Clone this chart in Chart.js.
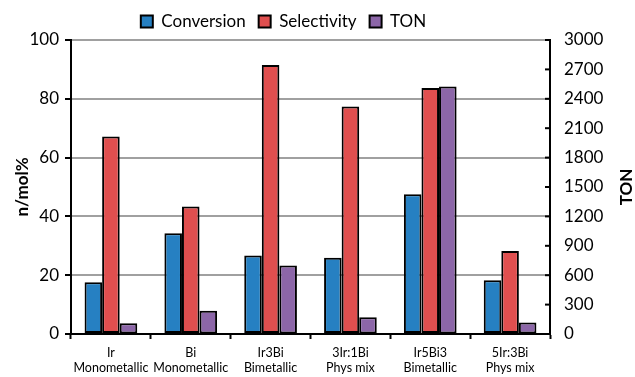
<!DOCTYPE html>
<html>
<head>
<meta charset="utf-8">
<script src="https://cdn.jsdelivr.net/npm/chart.js@4.4.1/dist/chart.umd.min.js"></script>
<style>
  html, body { margin: 0; padding: 0; background: #fff; }
  #wrap { width: 635px; height: 377px; }
</style>
</head>
<body>
<div id="wrap"><canvas id="chart" width="635" height="377"></canvas></div>
<script>
// Categories (two-line labels)
const categories = [
    ['Ir', 'Monometallic'],
    ['Bi', 'Monometallic'],
    ['Ir3Bi', 'Bimetallic'],
    ['3Ir:1Bi', 'Phys mix'],
    ['Ir5Bi3', 'Bimetallic'],
    ['5Ir:3Bi', 'Phys mix']
];

// Series values
const conversion = [17.6, 34.3, 26.7, 25.9, 47.5, 18.3];   // n/mol%
const selectivity = [67.2, 43.4, 91.5, 77.4, 83.7, 28.2];  // n/mol%
const ton = [110, 237, 700, 172, 2525, 117];               // right axis

const fontFamily = 'Lato, "Open Sans", sans-serif';

// Legend in the original sits a bit left of centre
const legendShift = {
    id: 'legendShift',
    afterLayout(chart) {
        const lg = chart.legend;
        lg.left -= 34;
        lg.right -= 34;
    }
};

// Inward ticks and an upward-reading title on the right axis, like the original
const rightAxisExtras = {
    id: 'rightAxisExtras',
    afterDraw(chart) {
        const s = chart.scales.y1;
        const ctx = chart.ctx;
        ctx.save();
        ctx.strokeStyle = 'black';
        ctx.lineWidth = 2;
        s.ticks.forEach(t => {
            const y = s.getPixelForValue(t.value);
            ctx.beginPath();
            ctx.moveTo(s.left - 5, y);
            ctx.lineTo(s.left, y);
            ctx.stroke();
        });
        // axis title
        ctx.translate(s.right - 8, (s.top + s.bottom) / 2);
        ctx.rotate(-Math.PI / 2);
        ctx.fillStyle = 'black';
        ctx.font = 'bold 17px ' + fontFamily;
        ctx.textAlign = 'center';
        ctx.textBaseline = 'middle';
        ctx.fillText('TON', 0, 0);
        ctx.restore();
    }
};

new Chart(document.getElementById('chart'), {
    type: 'bar',
    data: {
        labels: categories,
        datasets: [
            {
                label: 'Conversion',
                data: conversion,
                backgroundColor: '#2680C2',
                borderColor: 'black',
                borderWidth: 2,
                yAxisID: 'y'
            },
            {
                label: 'Selectivity',
                data: selectivity,
                backgroundColor: '#E04F4F',
                borderColor: 'black',
                borderWidth: 2,
                yAxisID: 'y'
            },
            {
                label: 'TON',
                data: ton,
                backgroundColor: '#8C66A8',
                borderColor: 'black',
                borderWidth: 2,
                yAxisID: 'y1'
            }
        ]
    },
    options: {
        responsive: false,
        animation: false,
        layout: { padding: { top: 0, bottom: 0 } },
        datasets: {
            bar: {
                categoryPercentage: 0.66,
                barPercentage: 1.0,
                borderSkipped: false
            }
        },
        plugins: {
            legend: {
                display: true,
                position: 'top',
                labels: {
                    color: 'black',
                    font: { family: fontFamily, size: 17 },
                    boxWidth: 12,
                    boxHeight: 12,
                    padding: 13
                }
            },
            tooltip: { enabled: false }
        },
        scales: {
            x: {
                grid: {
                    display: true,
                    drawOnChartArea: false,
                    offset: true,
                    tickLength: 5,
                    tickColor: 'black',
                    tickWidth: 2
                },
                border: { color: 'black', width: 2 },
                ticks: {
                    color: 'black',
                    font: { family: fontFamily, size: 12.5 },
                    maxRotation: 0,
                    autoSkip: false,
                    padding: 6
                },
                afterFit: (s) => { s.height = 43; }
            },
            y: {
                position: 'left',
                min: 0,
                max: 100,
                ticks: {
                    stepSize: 20,
                    color: 'black',
                    font: { family: fontFamily, size: 17 },
                    padding: 6
                },
                grid: {
                    color: '#a0a0a0',
                    lineWidth: 2,
                    tickLength: 6,
                    tickColor: 'black',
                    tickWidth: 2
                },
                border: { color: 'black', width: 2 },
                title: {
                    display: true,
                    text: 'n/mol%',
                    color: 'black',
                    font: { family: fontFamily, size: 17, weight: 'bold' },
                    padding: { top: 12, bottom: 0 }
                },
                afterFit: (s) => { s.width = 71; }
            },
            y1: {
                position: 'right',
                min: 0,
                max: 3000,
                ticks: {
                    stepSize: 300,
                    color: 'black',
                    font: { family: fontFamily, size: 17 },
                    padding: 14,
                    callback: (v) => String(v)
                },
                grid: {
                    drawOnChartArea: false,
                    drawTicks: false
                },
                border: { color: 'black', width: 2 },
                title: { display: false },
                afterFit: (s) => { s.width = 85; }
            }
        }
    },
    plugins: [legendShift, rightAxisExtras]
});
</script>
</body>
</html>
